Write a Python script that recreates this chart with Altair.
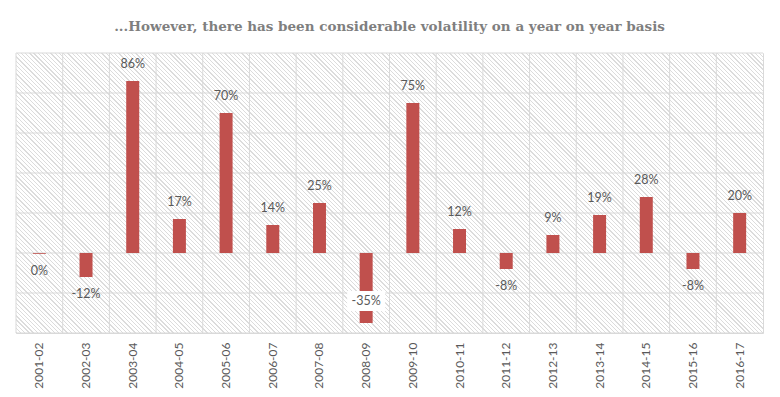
import altair as alt
import pandas as pd

# ---- data ----
years = ["2001-02", "2002-03", "2003-04", "2004-05", "2005-06", "2006-07", "2007-08", "2008-09",
         "2009-10", "2010-11", "2011-12", "2012-13", "2013-14", "2014-15", "2015-16", "2016-17"]
growth = [-0.4, -12, 86, 17, 70, 14, 25, -35, 75, 12, -8, 9, 19, 28, -8, 20]
y_ticks = [-40, -20, 0, 20, 40, 60, 80, 100]
title_text = "...However, there has been considerable volatility on a year on year basis"

Y_MIN, Y_MAX = y_ticks[0], y_ticks[-1]
W, H = 747, 280

def label_pos(v):
    if v >= 0:
        return "above"
    if v - 12 < Y_MIN:
        return "inside"
    return "below"

df = pd.DataFrame({
    "year": years,
    "value": growth,
    "label": [f"{round(v)}%" for v in growth],
    "pos": [label_pos(v) for v in growth],
})
grid_df = pd.DataFrame({"tick": y_ticks})

# ---- hatch texture for the plot background (diagonal lines) ----
L = (W + H) / 2 ** 0.5          # pixel length of the gradient direction
period = 3.0                    # perpendicular spacing of hatch lines (px)
lw = 0.9                        # line thickness (px)
bgc = "#ffffff"
line_col = "#dcdcdc"
stops = []
n = int(L / period) + 1
for i in range(n):
    t0 = i * period / L
    t1 = min((i * period + lw) / L, 1.0)
    if t0 > 1:
        break
    stops += [{"offset": t0, "color": bgc}, {"offset": t0, "color": line_col},
              {"offset": t1, "color": line_col}, {"offset": t1, "color": bgc}]
g = W * W + H * H
hatch = {
    "gradient": "linear",
    "x1": 0, "y1": 1,
    "x2": W * (W + H) / g, "y2": 1 - H * (W + H) / g,
    "stops": stops,
}

FONT = "Lato"
TXT = "#595959"
GRID = "#d9d9d9"

x_sort = alt.X("year:N", sort=years)

x_enc = alt.X("year:N", sort=years, title=None,
              scale=alt.Scale(paddingInner=0, paddingOuter=0),
              axis=alt.Axis(labelAngle=270, labelFont=FONT, labelFontSize=12, labelColor=TXT,
                            labelPadding=9, ticks=False, tickSize=0, domain=False, grid=False))
y_enc = alt.Y("value:Q", title=None,
              scale=alt.Scale(domain=[Y_MIN, Y_MAX], nice=False, zero=False),
              axis=alt.Axis(values=y_ticks, labels=False, ticks=False, domain=False, grid=False))

bg = alt.Chart(pd.DataFrame({"a": [0]})).mark_rect(
    x=0, x2="width", y=0, y2="height", fill=hatch, strokeWidth=0
).encode(opacity=alt.value(1))

base = alt.Chart(df)

hgrid = alt.Chart(grid_df).mark_rule(color=GRID, strokeWidth=1).encode(
    y=alt.Y("tick:Q"))
vgrid = base.mark_rule(color=GRID, strokeWidth=1).encode(
    x=alt.X("year:N", sort=years, bandPosition=0))

bars = base.mark_bar(size=13, color="#c0504d").encode(x=x_enc, y=y_enc)

above = base.transform_filter(alt.datum.pos == "above").mark_text(
    dy=-17, baseline="middle", font=FONT, fontSize=12.5, color=TXT
).encode(x=x_sort, y="value:Q", text="label:N")

below = base.transform_filter(alt.datum.pos == "below").mark_text(
    dy=17, baseline="middle", font=FONT, fontSize=12.5, color=TXT
).encode(x=x_sort, y="value:Q", text="label:N")

inside_box = base.transform_filter(alt.datum.pos == "inside").mark_point(
    shape="M-0.95,-0.5H0.95V0.5H-0.95Z", size=1600, filled=True, fill="white",
    opacity=1, strokeWidth=0, yOffset=-22
).encode(x=x_sort, y="value:Q")

inside = base.transform_filter(alt.datum.pos == "inside").mark_text(
    dy=-22, baseline="middle", font=FONT, fontSize=12.5, color=TXT
).encode(x=x_sort, y="value:Q", text="label:N")

chart = alt.layer(bg, hgrid, vgrid, bars, above, below, inside_box, inside).properties(
    width=W, height=H,
    autosize="none",
    padding={"left": 8, "top": 45, "right": 9, "bottom": 62},
    title=alt.TitleParams(title_text, font="DejaVu Serif", fontSize=13.5, fontWeight="bold",
                          color="#7f7f7f", anchor="middle", baseline="bottom", offset=5),
).configure_view(stroke=GRID, fill="white")

chart.save("out.html", embed_options={"renderer": "svg", "actions": False})
